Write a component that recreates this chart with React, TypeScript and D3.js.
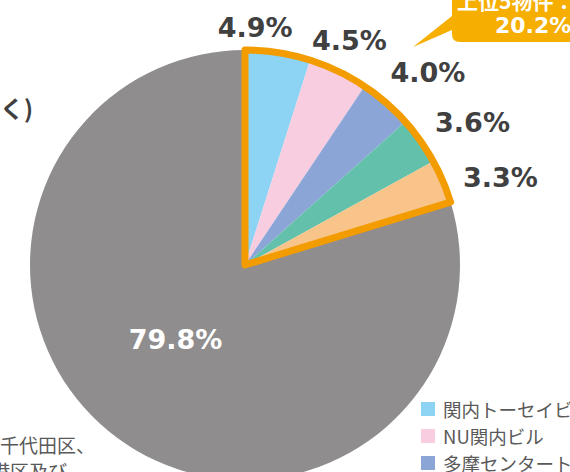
import React from "react";
import * as d3 from "d3";

const categories = ["関内トーセイビルII", "NU関内ビル", "多摩センタートーセイビル", "物件4", "物件5", "その他"];
const values = [4.9, 4.5, 4.0, 3.6, 3.3, 79.8];
const labels = ["4.9%", "4.5%", "4.0%", "3.6%", "3.3%", "79.8%"];
const colors = ["#8DD3F3", "#F8CDE0", "#8AA5D6", "#63C1AB", "#F8C48A", "#8F8D8E"];
const legendItems = ["関内トーセイビルII", "NU関内ビル", "多摩センタートーセイビル"];
const calloutLines = ["上位5物件：", "20.2%"];

const W = 570, H = 472;
const cx = 245, cy = 265, R = 215;

export default function App() {
  const pie = d3.pie<number>().sort(null).value((d) => d);
  const arcs = pie(values);
  const arc = d3.arc<d3.PieArcDatum<number>>().innerRadius(0).outerRadius(R);
  const top5End = arcs[4].endAngle;
  const hl = d3.arc()({ innerRadius: 0, outerRadius: R, startAngle: 0, endAngle: top5End } as any) as string;
  const labelR = 236;
  const offs: [number, number][] = [[-26, -4], [2, -12], [28, -14], [35, -6], [38, 4], [-7, -10]];
  const font = "'DejaVu Sans', Verdana, sans-serif";
  const jp = "'Noto Sans CJK JP', sans-serif";
  return (
    <svg width={W} height={H} style={{ position: "absolute", left: 0, top: 0, background: "#fff" }}>
      <g transform={`translate(${cx},${cy})`}>
        {arcs.map((a, i) => (
          <path key={i} d={arc(a) as string} fill={colors[i]} />
        ))}
        <path d={hl} fill="none" stroke="#F29C00" strokeWidth={7} strokeLinejoin="round" />
        {arcs.map((a, i) => {
          const m = (a.startAngle + a.endAngle) / 2;
          const r = i < 5 ? labelR : 105;
          const x = Math.sin(m) * r + offs[i][0];
          const y = -Math.cos(m) * r + offs[i][1];
          return (
            <text key={i} x={x} y={y} textAnchor="middle" dominantBaseline="central"
              fontFamily={font} fontWeight="bold" fontSize={27} fill={i < 5 ? "#404040" : "#ffffff"}>{labels[i]}</text>
          );
        })}
      </g>
      {/* callout */}
      <path d="M452,-20 L600,-20 L600,42 L460,42 Q452,42 452,34 L452,30 L413,47 L452,16 Z" fill="#F6AE00" />
      <text x={457} y={9} fontFamily={jp} fontWeight="bold" fontSize={21} fill="#fff">{calloutLines[0]}</text>
      <text x={495} y={33} fontFamily={font} fontWeight="bold" fontSize={22} fill="#fff">{calloutLines[1]}</text>
      {/* left texts */}
      <text x={33} y={118} textAnchor="end" fontFamily={jp} fontWeight="bold" fontSize={24} fill="#404040">その他（都心5区を除く)</text>
      <text x={0} y={453} fontFamily={jp} fontSize={19} fill="#595959">千代田区、</text>
      <text x={-9} y={479} fontFamily={jp} fontSize={19} fill="#595959">港区及び</text>
      {/* legend */}
      {legendItems.map((t, i) => (
        <g key={i} transform={`translate(421,${409 + i * 27})`}>
          <rect x={0} y={-7} width={14} height={14} fill={colors[i]} />
          <text x={22} y={0} dominantBaseline="central" fontFamily={jp} fontSize={18.5} fill="#595959">{t}</text>
        </g>
      ))}
    </svg>
  );
}
